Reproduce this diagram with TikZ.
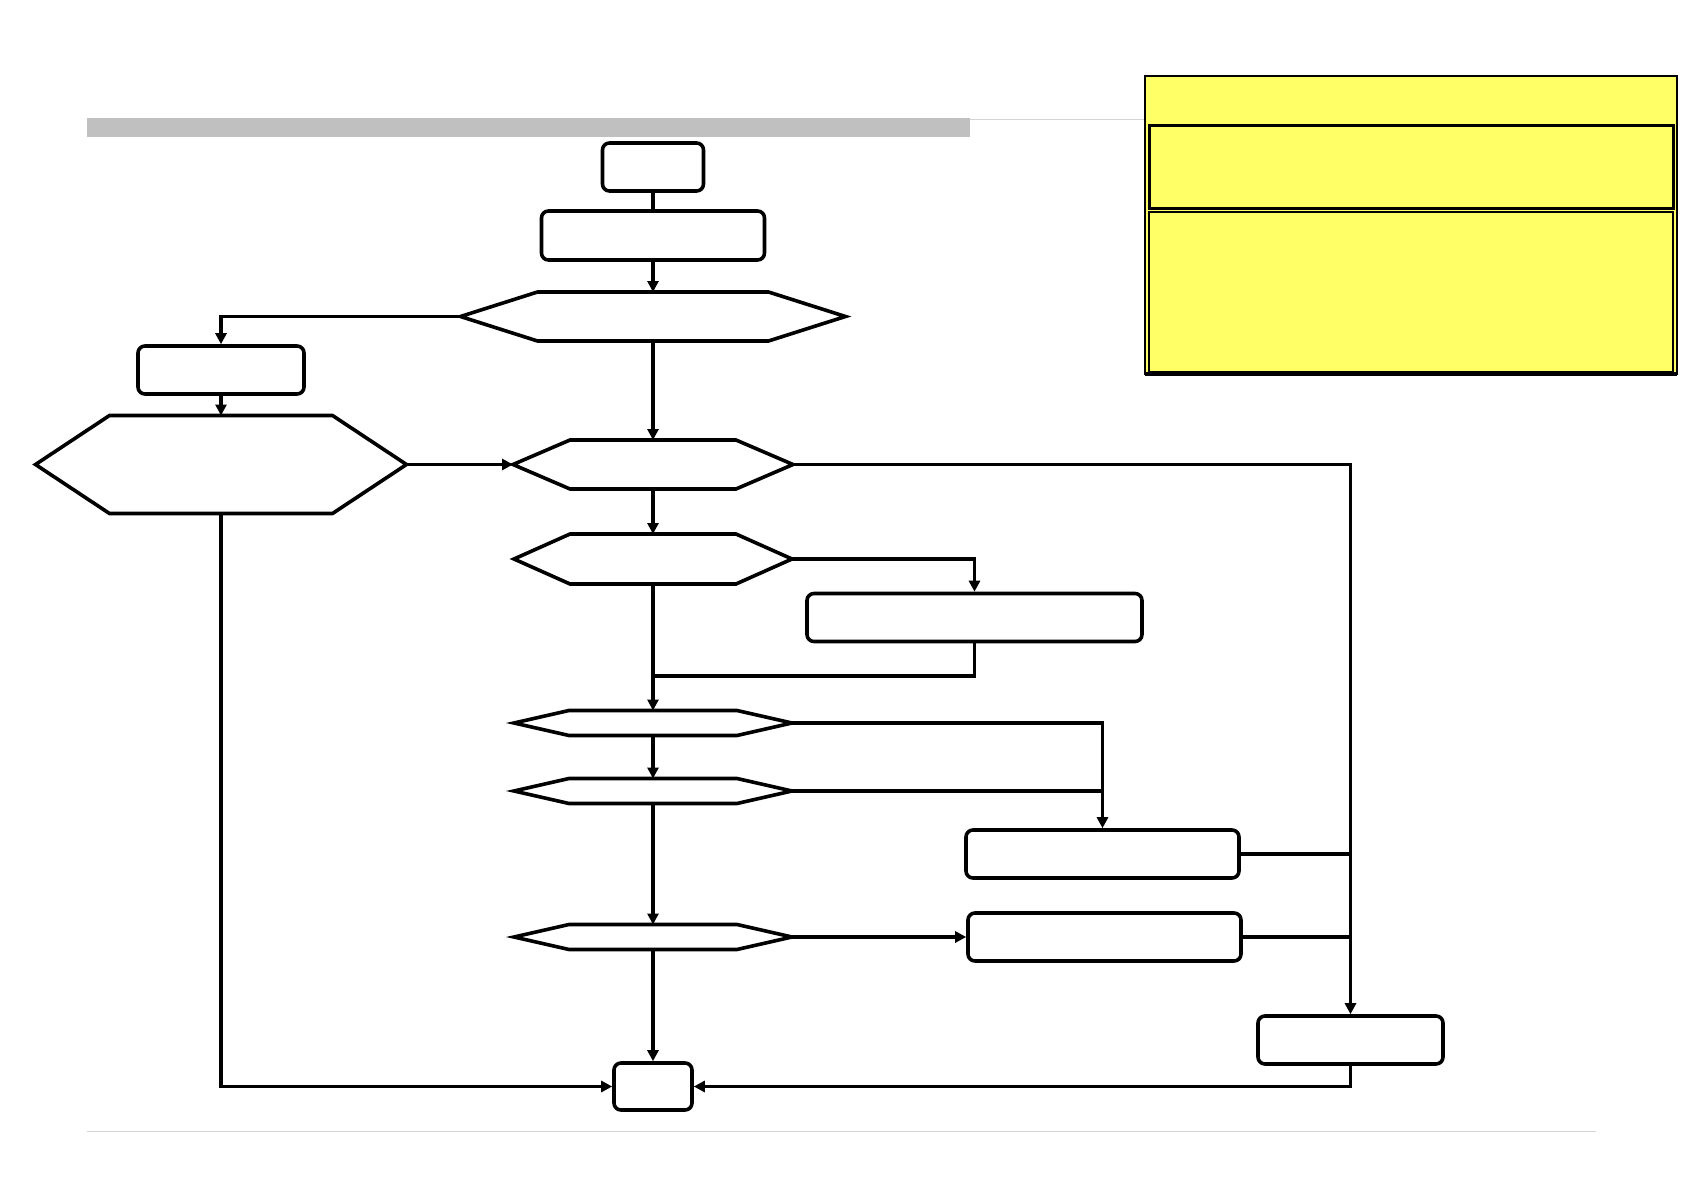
\documentclass[tikz,border=0pt]{standalone}
\usepackage{tikz}
\usetikzlibrary{
    arrows.meta,
    positioning,
    calc
}
\definecolor{noteYellow}{RGB}{255,255,102}
\definecolor{barGray}{RGB}{192,192,192}
\definecolor{ruleGray}{RGB}{212,212,212}
\tikzset{
  box/.style   = {draw, rounded corners=0.7mm, line width=0.36mm,
                  inner sep=0pt, minimum height=4.8mm},
  hexn/.style  = {inner sep=0pt, outer sep=0pt,
                  append after command={\pgfextra{
                    \draw[line width=0.36mm, line join=miter]
                      (\tikzlastnode.west)
                      -- ([xshift=#1]\tikzlastnode.north west)
                      -- ([xshift=-#1]\tikzlastnode.north east)
                      -- (\tikzlastnode.east)
                      -- ([xshift=-#1]\tikzlastnode.south east)
                      -- ([xshift=#1]\tikzlastnode.south west)
                      -- cycle;}}},
  arr/.style   = {-{Triangle[length=1.1mm,width=1.1mm]}, line width=0.33mm},
  ln/.style    = {line width=0.33mm}
}

\begin{document}
\begin{tikzpicture}[x=0.1mm, y=-0.1mm]
    \useasboundingbox (0,0) rectangle (1683,1191);
    \fill[barGray] (87,118) rectangle (970,137);
    \draw[ruleGray, line width=0.1mm] (970,119) -- (1145,119);
    \draw[ruleGray, line width=0.1mm] (87,1131) -- (1596,1131);
    \filldraw[fill=noteYellow, line width=0.2mm] (1145,76) rectangle (1677,374);
    \draw[line width=0.4mm] (1145,374) -- (1677,374);
    \draw[line width=0.3mm] (1149,125) rectangle (1673,208);
    \draw[line width=0.2mm] (1149,212) rectangle (1673,372);

    \node[box, minimum width=10.1mm] (start) at (653,167) {};
    \node[box, minimum width=22.3mm, minimum height=4.9mm] (prep) at (653,235.5) {};
    \node[hexn=7.7mm, minimum width=38.5mm, minimum height=4.9mm] (dec1) at (653,316.5) {};
    \node[box, minimum width=16.6mm] (sub) at (221,370) {};
    \node[hexn=7.4mm, minimum width=37.1mm, minimum height=9.8mm] (decl) at (221,464.5) {};
    \node[hexn=5.7mm, minimum width=28mm, minimum height=4.9mm] (dec2) at (653,464.5) {};
    \node[hexn=5.6mm, minimum width=27.8mm, minimum height=5mm] (dec3) at (653,559) {};
    \node[box, minimum width=33.5mm, minimum height=4.8mm] (actA) at (974.5,617.5) {};
    \coordinate (merge) at (653,676);
    \node[hexn=5.5mm, minimum width=27.8mm, minimum height=2.5mm] (dec4) at (653,723) {};
    \node[hexn=5.5mm, minimum width=27.8mm, minimum height=2.5mm] (dec5) at (653,791) {};
    \node[box, minimum width=27.3mm] (actB) at (1102.5,854) {};
    \node[hexn=5.5mm, minimum width=27.8mm, minimum height=2.5mm] (dec6) at (653,937) {};
    \node[box, minimum width=27.3mm] (actC) at (1104.5,937) {};
    \node[box, minimum width=18.5mm] (actD) at (1350.5,1040) {};
    \node[box, minimum width=7.8mm, minimum height=4.7mm] (stop) at (653,1086.5) {};

    \draw[ln] (start) -- (prep);
    \draw[arr] (prep) -- (dec1);
    \draw[arr] (dec1.west) -| (sub);
    \draw[arr] (sub) -- (decl);
    \draw[arr] (decl.east) -- (dec2.west);
    \draw[arr] (dec1) -- (dec2);
    \draw[arr] (dec2.east) -| (actD);
    \draw[arr] (dec2) -- (dec3);
    \draw[arr] (dec3.east) -| (actA);
    \draw[ln] (actA) |- (merge);
    \draw[arr] (dec3) -- (dec4);
    \draw[arr] (dec4.east) -| (actB);
    \draw[ln] (dec5.east) -- (dec5.east -| actB);
    \draw[arr] (dec4) -- (dec5);
    \draw[arr] (dec5) -- (dec6);
    \draw[arr] (dec6.east) -- (actC);
    \draw[arr] (dec6) -- (stop);
    \draw[ln] (actB.east) -- (actB.east -| actD);
    \draw[ln] (actC.east) -- (actC.east -| actD);
    \draw[arr] (decl.south) |- (stop);
    \draw[arr] (actD) |- (stop);
\end{tikzpicture}
\end{document}
